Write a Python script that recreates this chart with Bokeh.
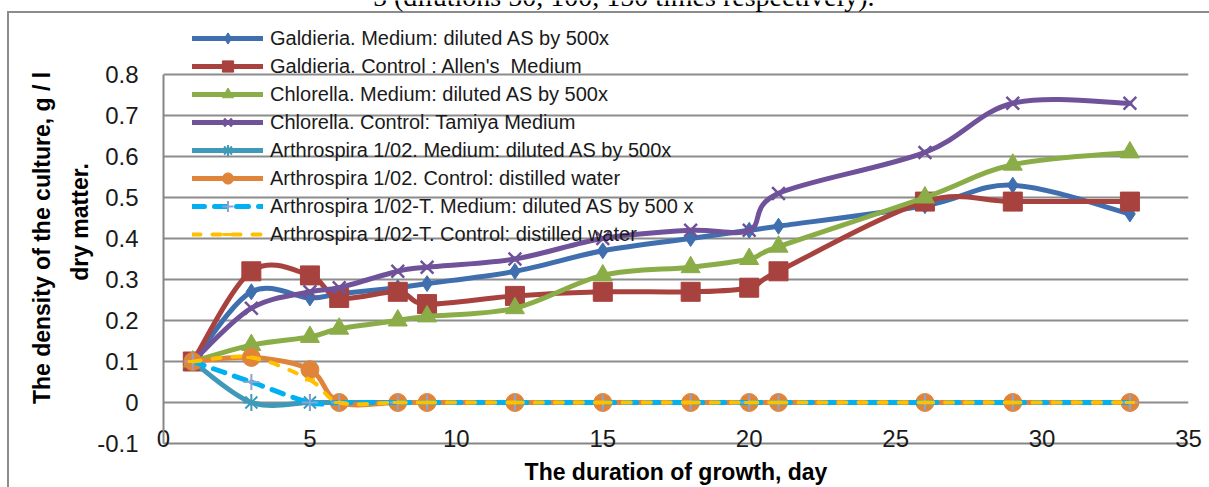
from bokeh.plotting import figure
from bokeh.models import (Range1d, FixedTicker, Legend, LegendItem, Label, ColumnDataSource)
from bokeh.embed import file_html
from bokeh.resources import INLINE

# ---------------- data ----------------
days = [1, 3, 5, 6, 8, 9, 12, 15, 18, 20, 21, 26, 29, 33]

galdieria_medium = [0.10, 0.27, 0.255, 0.265, 0.28, 0.29, 0.32, 0.37, 0.40, 0.42, 0.43, 0.48, 0.53, 0.46]
galdieria_control = [0.10, 0.32, 0.31, 0.255, 0.27, 0.24, 0.26, 0.27, 0.27, 0.28, 0.32, 0.49, 0.49, 0.49]
chlorella_medium = [0.10, 0.14, 0.16, 0.18, 0.20, 0.21, 0.23, 0.31, 0.33, 0.35, 0.38, 0.50, 0.58, 0.61]
chlorella_control = [0.10, 0.23, 0.27, 0.28, 0.32, 0.33, 0.35, 0.40, 0.42, 0.42, 0.51, 0.61, 0.73, 0.73]
arthro_medium = [0.10, 0.00, 0.00, 0.00, 0.00, 0.00, 0.00, 0.00, 0.00, 0.00, 0.00, 0.00, 0.00, 0.00]
arthro_control = [0.10, 0.11, 0.08, 0.00, 0.00, 0.00, 0.00, 0.00, 0.00, 0.00, 0.00, 0.00, 0.00, 0.00]
arthro_t_medium = [0.10, 0.05, 0.00, 0.00, 0.00, 0.00, 0.00, 0.00, 0.00, 0.00, 0.00, 0.00, 0.00, 0.00]
arthro_t_control = [0.10, 0.11, 0.055, 0.00, 0.00, 0.00, 0.00, 0.00, 0.00, 0.00, 0.00, 0.00, 0.00, 0.00]

series_labels = [
    "Galdieria. Medium: diluted AS by 500x",
    "Galdieria. Control : Allen's  Medium",
    "Chlorella. Medium: diluted AS by 500x",
    "Chlorella. Control: Tamiya Medium",
    "Arthrospira 1/02. Medium: diluted AS by 500x",
    "Arthrospira 1/02. Control: distilled water",
    "Arthrospira 1/02-T. Medium: diluted AS by 500 x",
    "Arthrospira 1/02-T. Control: distilled water",
]

x_ticks = [0, 5, 10, 15, 20, 25, 30, 35]
x_tick_labels = ["0", "5", "10", "15", "20", "25", "30", "35"]
y_ticks = [-0.1, 0.0, 0.1, 0.2, 0.3, 0.4, 0.5, 0.6, 0.7, 0.8]
y_tick_labels = ["-0.1", "0", "0.1", "0.2", "0.3", "0.4", "0.5", "0.6", "0.7", "0.8"]

x_title = "The duration of growth, day"
y_title_lines = ["The density of the culture, g / l", "dry matter."]
caption = "5 (dilutions 50, 100, 150  times respectively)."

# ---------------- layout geometry (pixels) ----------------
W, H = 1209, 487
FRAME_LEFT, FRAME_RIGHT = 163, 1188     # x = 0 and x = 35
FRAME_BOTTOM = 443                      # y = -0.1
PLOT_TOP = 74                           # y = 0.8 (frame extends above it to the top edge)
Y_MIN, Y_MAX = y_ticks[0], y_ticks[-1]
px_per_unit = (FRAME_BOTTOM - PLOT_TOP) / (Y_MAX - Y_MIN)
Y_VIEW_TOP = Y_MAX + PLOT_TOP / px_per_unit

FONT = "Liberation Sans"
NBSP = "\u00a0"
series_values = [galdieria_medium, galdieria_control, chlorella_medium, chlorella_control,
                 arthro_medium, arthro_control, arthro_t_medium, arthro_t_control]
styles = [
    dict(color="#3F6FAE", marker="diamond", size=16, mfill="#3F6FAE", mline="#3F6FAE", mlw=1, width=5, dash="solid"),
    dict(color="#A8423F", marker="square", size=19, mfill="#A8423F", mline="#A8423F", mlw=1, width=5, dash="solid"),
    dict(color="#8AAD47", marker="triangle", size=19, mfill="#8AAD47", mline="#8AAD47", mlw=1, width=5, dash="solid"),
    dict(color="#6F5299", marker="x", size=18, mfill="#6F5299", mline="#6F5299", mlw=2.5, width=5, dash="solid"),
    dict(color="#3E9AB8", marker="asterisk", size=17, mfill="#3E9AB8", mline="#3E9AB8", mlw=2, width=5, dash="solid"),
    dict(color="#E0843A", marker="circle", size=18, mfill="#E0843A", mline="#E0843A", mlw=1, width=5, dash="solid"),
    dict(color="#00B0F0", marker="cross", size=16, mfill="#8FA3D1", mline="#8FA3D1", mlw=2, width=5, dash="12 10"),
    dict(color="#FFC000", marker="dash", size=10, mfill="#FFC000", mline="#FFC000", mlw=3, width=4, dash="8 12"),
]


def smooth_segments(xs, ys):
    """Catmull-Rom style cubic Bezier segments through the data points (Excel-like smoothed line)."""
    n = len(xs)
    out = dict(x0=[], y0=[], x1=[], y1=[], cx0=[], cy0=[], cx1=[], cy1=[])
    for i in range(n - 1):
        im = max(i - 1, 0)
        ip = min(i + 2, n - 1)
        out["x0"].append(xs[i]); out["y0"].append(ys[i])
        out["x1"].append(xs[i + 1]); out["y1"].append(ys[i + 1])
        out["cx0"].append(xs[i] + (xs[i + 1] - xs[im]) / 6.0)
        out["cy0"].append(ys[i] + (ys[i + 1] - ys[im]) / 6.0)
        out["cx1"].append(xs[i + 1] - (xs[ip] - xs[i]) / 6.0)
        out["cy1"].append(ys[i + 1] - (ys[ip] - ys[i]) / 6.0)
    return out


# ---------------- figure ----------------
p = figure(width=W, height=H, output_backend="svg", toolbar_location=None,
           x_range=Range1d(x_ticks[0], x_ticks[-1]), y_range=Range1d(Y_MIN, Y_VIEW_TOP),
           min_border_left=FRAME_LEFT, min_border_right=W - FRAME_RIGHT,
           min_border_top=0, min_border_bottom=H - FRAME_BOTTOM)
p.outline_line_color = None
p.background_fill_color = None
p.border_fill_color = None
# chart-area border (grey rules on the left and top) drawn behind the canvas
p.styles = {
    "background": ("linear-gradient(#8C8C8C,#8C8C8C) 7px 11px / 2px 100% no-repeat, "
                   "linear-gradient(#8C8C8C,#8C8C8C) 7px 11px / 100% 2px no-repeat, white"),
}

# grid
p.xgrid.visible = False
p.ygrid.ticker = FixedTicker(ticks=y_ticks)
p.ygrid.grid_line_color = "#8C8C8C"
p.ygrid.grid_line_width = 2

# axes
p.yaxis.ticker = FixedTicker(ticks=y_ticks)
p.yaxis.major_label_overrides = {t: lab for t, lab in zip(y_ticks, y_tick_labels)}
p.yaxis.bounds = (Y_MIN, Y_MAX)
p.xaxis.ticker = FixedTicker(ticks=x_ticks)
p.xaxis.major_label_overrides = {t: lab for t, lab in zip(x_ticks, x_tick_labels)}
for ax in (p.xaxis[0], p.yaxis[0]):
    ax.axis_line_color = "#868686"
    ax.axis_line_width = 2
    ax.major_tick_line_color = None
    ax.minor_tick_line_color = None
    ax.major_tick_out = 0
    ax.major_tick_in = 0
    ax.major_label_text_font = FONT
    ax.major_label_text_font_size = "24px"
    ax.major_label_text_color = "#1A1A1A"
    ax.axis_label_text_font = FONT
    ax.axis_label_text_font_style = "bold"
    ax.axis_label_text_font_size = "23px"
    ax.axis_label_text_color = "#000000"
p.yaxis.major_label_standoff = 25
p.xaxis.major_label_standoff = -14
p.xaxis.axis_label = x_title
p.xaxis.axis_label_standoff = 9
# trailing no-break spaces on the first line move it down along the axis (as in the reference)
p.yaxis.axis_label = (y_title_lines[0] + NBSP * 5) + "\n" + y_title_lines[1]
p.yaxis.axis_label_standoff = 1
p.yaxis.axis_label_text_line_height = 1.45

# series
items = []
for vals, st, lab in zip(series_values, styles, series_labels):
    seg = ColumnDataSource(smooth_segments(days, vals))
    p.bezier(x0="x0", y0="y0", x1="x1", y1="y1", cx0="cx0", cy0="cy0", cx1="cx1", cy1="cy1",
             source=seg, line_color=st["color"], line_width=st["width"], line_dash=st["dash"],
             line_cap="round", line_join="round")
    # one-point line: draws nothing on the plot, supplies the legend's line sample
    legend_line = p.line(x=days[:1], y=vals[:1], line_color=st["color"], line_width=st["width"],
                         line_dash=st["dash"], line_cap="round")
    sc = p.scatter(x=days, y=vals, marker=st["marker"], size=st["size"],
                   fill_color=st["mfill"], line_color=st["mline"], line_width=st["mlw"])
    items.append(LegendItem(label=lab, renderers=[legend_line, sc]))

legend = Legend(items=items, location=(29, 195), orientation="vertical",
                background_fill_alpha=0, border_line_color=None, padding=0, margin=0,
                spacing=0, glyph_width=71, glyph_height=28, label_height=28,
                label_standoff=7, label_text_font=FONT, label_text_font_size="20px",
                label_text_color="#1A1A1A")
p.add_layout(legend)

# caption fragment of the surrounding document, cut by the top edge
p.add_layout(Label(x=718, y=447, x_units="screen", y_units="screen", text=caption,
                   text_align="right", text_baseline="alphabetic", text_font="Liberation Serif",
                   text_font_size="28px", text_color="#000000"))

open("out.html", "w").write(file_html(p, INLINE))
